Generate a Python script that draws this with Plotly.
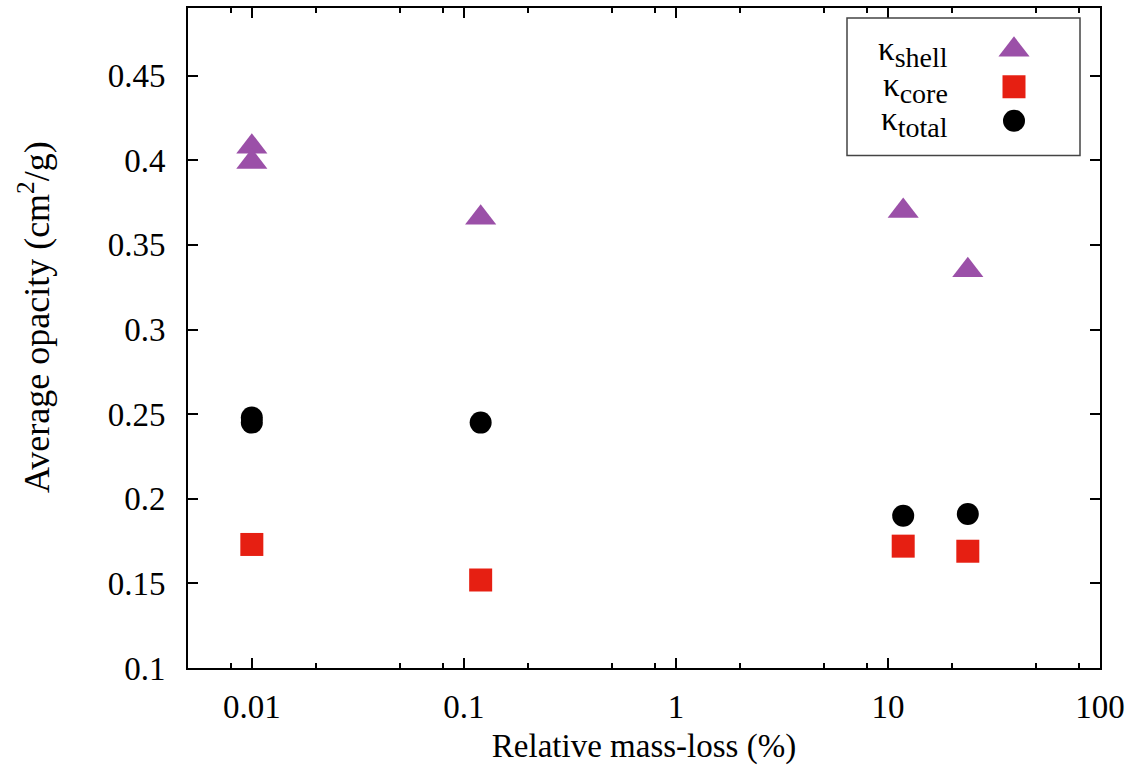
import plotly.graph_objects as go
import numpy as np

# ---- data ----
shell_x = [0.01, 0.01, 0.12, 11.8, 23.8]
shell_y = [0.408, 0.399, 0.366, 0.370, 0.335]
core_x = [0.01, 0.12, 11.8, 23.8]
core_y = [0.173, 0.152, 0.172, 0.169]
total_x = [0.01, 0.01, 0.12, 11.8, 23.8]
total_y = [0.248, 0.245, 0.245, 0.190, 0.191]

x_tickvals = [0.01, 0.1, 1, 10, 100]
x_ticktext = ["0.01", "0.1", "1", "10", "100"]
x_minor = [0.008, 0.02, 0.05, 0.08, 0.2, 0.5, 0.8, 2, 5, 8, 20, 50, 80]
y_tickvals = [0.1, 0.15, 0.2, 0.25, 0.3, 0.35, 0.4, 0.45]
y_ticktext = ["0.1", "0.15", "0.2", "0.25", "0.3", "0.35", "0.4", "0.45"]

legend_main = ["κ", "κ", "κ"]
legend_subs = ["shell", "core", "total"]

PURPLE = "#9b50a8"
RED = "#e61f12"
BLACK = "#000000"
FONT = "Liberation Serif"
FS = 33

fig = go.Figure()
fig.add_trace(go.Scatter(x=shell_x, y=shell_y, mode="markers",
                         marker=dict(symbol="triangle-up", size=27, color=PURPLE, opacity=1, line=dict(width=0)),
                         showlegend=False))
fig.add_trace(go.Scatter(x=core_x, y=core_y, mode="markers",
                         marker=dict(symbol="square", size=23, color=RED, opacity=1, line=dict(width=0)),
                         showlegend=False))
fig.add_trace(go.Scatter(x=total_x, y=total_y, mode="markers",
                         marker=dict(symbol="circle", size=22, color=BLACK, opacity=1, line=dict(width=0)),
                         showlegend=False))

# custom legend (symbols right of text, as in the reference)
L, R, T, B = 188, 1100, 6, 668
def px(xp):
    return (xp - L) / (R - L)
def py(yp):
    return (B - yp) / (B - T)

leg_rows_y = [50, 86, 120]
fig.add_trace(go.Scatter(x=[px(1014)] * 3, y=[py(v) for v in [48, 85, 119]], mode="markers",
                         xaxis="x2", yaxis="y2",
                         marker=dict(symbol=["triangle-up", "square", "circle"], size=[27, 23, 22],
                                     color=[PURPLE, RED, BLACK], opacity=1, line=dict(width=0)),
                         showlegend=False, hoverinfo="skip"))

annotations = []
for m, s, yy in zip(legend_main, legend_subs, leg_rows_y):
    annotations.append(dict(x=px(950), y=py(yy), xref="paper", yref="paper",
                            text=f"{m}<sub><span style='font-size:28px'>{s}</span></sub>",
                            showarrow=False, xanchor="right", yanchor="middle",
                            font=dict(family=FONT, size=FS, color="black")))

# y-axis title placed like the reference
annotations.append(dict(x=px(34), y=py(316), xref="paper", yref="paper",
                        text="Average opacity (cm<sup>2</sup>/g)", textangle=-90,
                        showarrow=False, xanchor="center", yanchor="middle",
                        font=dict(family=FONT, size=36, color="black")))

fig.update_layout(
    width=1135, height=772,
    margin=dict(l=L, r=1135 - R, t=T, b=772 - B),
    plot_bgcolor="white", paper_bgcolor="white",
    font=dict(family=FONT, size=FS, color="black"),
    xaxis=dict(type="log", range=[np.log10(0.005), 2], tickvals=x_tickvals, ticktext=x_ticktext,
               ticks="inside", ticklen=10, tickwidth=1.5, tickcolor="black",
               minor=dict(tickvals=x_minor, ticks="inside", ticklen=5, tickwidth=1.5, tickcolor="black"),
               showline=True, linecolor="black", linewidth=2, mirror="allticks",
               showgrid=False, zeroline=False, ticklabelstandoff=8,
               title=dict(text="Relative mass-loss (%)", font=dict(size=FS), standoff=10),
               tickfont=dict(size=FS)),
    yaxis=dict(range=[0.1, 0.49], tickvals=y_tickvals, ticktext=y_ticktext,
               ticks="inside", ticklen=10, tickwidth=1.5, tickcolor="black",
               showline=True, linecolor="black", linewidth=2, mirror="allticks",
               showgrid=False, zeroline=False, ticklabelstandoff=14,
               tickfont=dict(size=FS)),
    xaxis2=dict(range=[0, 1], overlaying="x", visible=False, fixedrange=True),
    yaxis2=dict(range=[0, 1], overlaying="y", visible=False, fixedrange=True),
    shapes=[dict(type="rect", xref="paper", yref="paper",
                 x0=px(847), x1=px(1080), y0=py(154), y1=py(16),
                 line=dict(color="#444444", width=1.5), fillcolor="rgba(0,0,0,0)")],
    annotations=annotations,
)

fig.write_html("out.html", config={"displayModeBar": False},
               post_script="document.body.style.margin='0';")
